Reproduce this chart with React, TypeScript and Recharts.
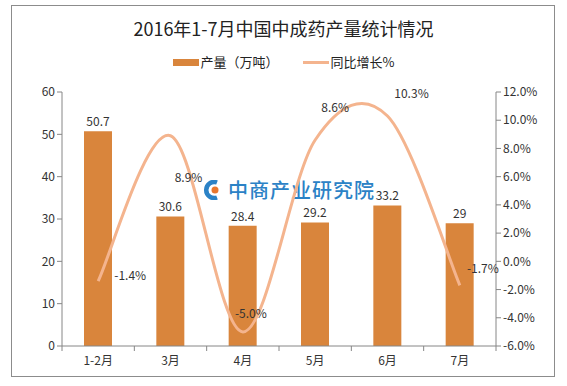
import React from 'react';
import {
  ComposedChart, Bar, Line, XAxis, YAxis, LabelList,
} from 'recharts';

const months = ['1-2月', '3月', '4月', '5月', '6月', '7月'];
const output = [50.7, 30.6, 28.4, 29.2, 33.2, 29];
const growth = [-1.4, 8.9, -5.0, 8.6, 10.3, -1.7];
const leftTicks = [0, 10, 20, 30, 40, 50, 60];
const rightTicks = [-6, -4, -2, 0, 2, 4, 6, 8, 10, 12];

// hand-placed label offsets for the growth line, as in the original
const growthLabelShift = [
  [32, -7], [18, 41], [8, -19], [20, -33], [24, -23], [23, -18],
];

const data = months.map((m, i) => ({ month: m, output: output[i], growth: growth[i] }));

const FONT = '"Noto Sans CJK SC", "Noto Sans", sans-serif';
const BAR = '#D9853C';
const LINE = '#F4B48E';
const AXIS = '#868686';
const TEXT = '#333';

// Excel-like smoothed line (Catmull-Rom through every point)
function excelSmooth(context: any) {
  let pts: [number, number][] = [];
  return {
    areaStart() {},
    areaEnd() {},
    lineStart() { pts = []; },
    point(x: number, y: number) { pts.push([+x, +y]); },
    lineEnd() {
      if (!pts.length) return;
      context.moveTo(pts[0][0], pts[0][1]);
      for (let i = 0; i < pts.length - 1; i++) {
        const p0 = pts[i - 1] || pts[i];
        const p1 = pts[i];
        const p2 = pts[i + 1];
        const p3 = pts[i + 2] || p2;
        context.bezierCurveTo(
          p1[0] + (p2[0] - p0[0]) / 6, p1[1] + (p2[1] - p0[1]) / 6,
          p2[0] - (p3[0] - p1[0]) / 6, p2[1] - (p3[1] - p1[1]) / 6,
          p2[0], p2[1],
        );
      }
    },
  };
}

function MonthTick(props: any) {
  const { x, y, payload, index } = props;
  const half = payload?.offset || 434 / 12;
  return (
    <g>
      <line x1={x - half} x2={x - half} y1={y - 8} y2={y - 3} stroke={AXIS} />
      {index === months.length - 1 && (
        <line x1={x + half} x2={x + half} y1={y - 8} y2={y - 3} stroke={AXIS} />
      )}
      <text x={x} y={y + 11} textAnchor="middle" fontSize={12} fill={TEXT} fontFamily={FONT}>
        {payload.value}
      </text>
    </g>
  );
}

function GrowthLabel(props: any) {
  const { x, y, value, index } = props;
  const [dx, dy] = growthLabelShift[index] || [0, -12];
  return (
    <text
      x={x + dx}
      y={y + dy}
      textAnchor="middle"
      dominantBaseline="central"
      fontSize={12}
      fill={TEXT}
      fontFamily={FONT}
    >
      {value.toFixed(1)}%
    </text>
  );
}

export default function App() {
  return (
    <div style={{ position: 'absolute', left: 0, top: 0, width: 567, height: 386, background: '#fff', fontFamily: FONT }}>
      <div style={{
        position: 'absolute', left: 11, top: 5, width: 544, height: 372,
        border: '1px solid #8c8c8c', boxSizing: 'border-box',
      }} />
      <div style={{
        position: 'absolute', left: 0, top: 16, width: 567, textAlign: 'center',
        fontSize: 18, color: '#222', lineHeight: '24px',
      }}>
        2016年1-7月中国中成药产量统计情况
      </div>
      <div style={{
        position: 'absolute', left: 0, top: 53, width: 567, display: 'flex',
        justifyContent: 'center', alignItems: 'center', fontSize: 13, color: '#222', lineHeight: '18px',
      }}>
        <span style={{ display: 'inline-block', width: 26, height: 7, background: BAR, marginRight: 2 }} />
        <span>产量（万吨）</span>
        <span style={{ display: 'inline-block', width: 26, height: 3, background: LINE, marginLeft: 24, marginRight: 2 }} />
        <span>同比增长%</span>
      </div>
      <div style={{
        position: 'absolute', left: 202, top: 180, display: 'flex', alignItems: 'center',
        color: '#2B82C6', fontSize: 20, fontWeight: 500, lineHeight: '20px',
      }}>
        <svg width={22} height={20} style={{ marginRight: 4 }}>
          <path d="M15 2.5 A8 8 0 1 0 15 17.5" fill="none" stroke="#2B82C6" strokeWidth={4.5} />
          <circle cx={13} cy={10} r={3.5} fill="#E8772E" />
        </svg>
        <span style={{ letterSpacing: 1 }}>中商产业研究院</span>
      </div>
      <div style={{ position: 'absolute', left: 0, top: 0 }}>
        <ComposedChart
          width={567}
          height={386}
          data={data}
          margin={{ top: 92, right: 16, bottom: 10, left: 12 }}
          barCategoryGap={0}
        >
          <XAxis
            dataKey="month"
            axisLine={{ stroke: AXIS }}
            tickLine={false}
            tick={<MonthTick />}
            height={30}
            interval={0}
          />
          <YAxis
            yAxisId="left"
            domain={[0, 60]}
            ticks={leftTicks}
            width={50}
            axisLine={{ stroke: AXIS }}
            tickLine={{ stroke: AXIS }}
            tickSize={5}
            tick={{ fontSize: 12, fill: TEXT, fontFamily: FONT }}
          />
          <YAxis
            yAxisId="right"
            orientation="right"
            domain={[-6, 12]}
            ticks={rightTicks}
            width={55}
            axisLine={{ stroke: AXIS }}
            tickLine={{ stroke: AXIS }}
            tickSize={5}
            tickFormatter={(v: number) => `${v.toFixed(1)}%`}
            tick={{ fontSize: 12, fill: TEXT, fontFamily: FONT }}
          />
          <Bar yAxisId="left" dataKey="output" fill={BAR} barSize={28} isAnimationActive={false}>
            <LabelList dataKey="output" position="top" offset={5} fontSize={12} fill={TEXT} fontFamily={FONT} />
          </Bar>
          <Line
            yAxisId="right"
            dataKey="growth"
            type={excelSmooth as any}
            stroke={LINE}
            strokeWidth={3}
            dot={false}
            isAnimationActive={false}
          >
            <LabelList dataKey="growth" content={<GrowthLabel />} />
          </Line>
        </ComposedChart>
      </div>
    </div>
  );
}
